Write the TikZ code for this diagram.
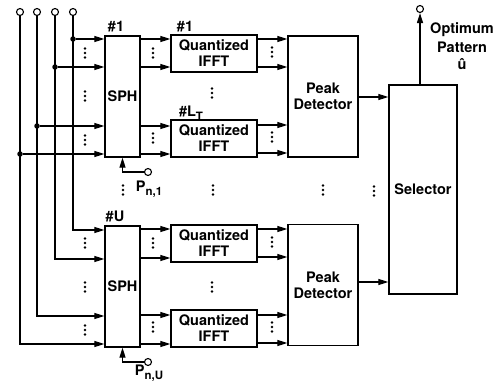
\documentclass[tikz,border=0pt]{standalone}
\usepackage{fontspec}
\setmainfont{TeX Gyre Heros}
\usepackage{tikz}
\usetikzlibrary{positioning,arrows.meta}

\newcommand{\lowtxt}[1]{\raisebox{-4pt}{\fontsize{11.5}{11.5}\selectfont #1}}

\begin{document}
\begin{tikzpicture}[
  x=1pt, y=-1pt,
  font=\fontsize{14.5}{16}\selectfont\bfseries,
  blk/.style={draw, line width=1.3pt, fill=white, inner sep=0pt, align=center},
  sph/.style={blk, minimum width=35pt, minimum height=121pt},
  qifft/.style={blk, minimum width=86pt, minimum height=37pt},
  peak/.style={blk, minimum width=70pt, minimum height=121pt},
  sel/.style={blk, minimum width=68pt, minimum height=209pt},
  port/.style={circle, draw, fill=white, line width=1.1pt, inner sep=0pt,
               minimum size=7pt},
  jn/.style={circle, fill, inner sep=0pt, minimum size=5.5pt},
  lbl/.style={inner sep=0pt, align=center},
  arr/.style={-{Triangle[length=10pt,width=6pt]}, line width=1.2pt},
  vd/.pic={\foreach \d in {-4.5,0,4.5} \fill (0,\d) circle (1.3pt);},
]
\useasboundingbox (0,0) rectangle (503,385);

% input ports
\foreach \i/\x in {1/20,2/37,3/55,4/73}
  \node[port] (in\i) at (\x,12) {};

\node[sph] (sph1) at (122.5,96.5) {SPH};
\node[sph] (sph2) at (122.5,286.5) {SPH};

\node[qifft] (q11) at (214,53.5) {Quantized\\IFFT};
\node[qifft] (q1L) at (214,138.5) {Quantized\\IFFT};
\node[qifft] (qU1) at (214,243.5) {Quantized\\IFFT};
\node[qifft] (qUL) at (214,328.5) {Quantized\\IFFT};

\node[peak] (pd1) at (323,96.5) {Peak\\Detector};
\node[peak] (pd2) at (323,285) {Peak\\Detector};

\node[sel] (sel) at (423,189.5) {Selector};

\node[lbl] (h1) at (116,27) {\#1};
\node[lbl] (hq1) at (185,27) {\#1};
\node[lbl] (hqL) at (191,113) {\#L\lowtxt{T}};
\node[lbl] (hU) at (115,216) {\#U};

% inputs to SPH blocks
\foreach \i/\y in {1/154,2/126,3/67,4/39} {
  \node[jn] (j\i) at (in\i |- 0,\y) {};
  \draw[arr] (j\i) -- (sph1.west |- j\i);
}
\foreach \i/\y in {1/344,2/316,3/259,4/230}
  \draw[arr] (in\i) |- (sph2.west |- 0,\y);

% SPH -> IFFT
\foreach \y/\b in {39/q11,67/q11,126/q1L,154/q1L}
  \draw[arr] (sph1.east |- 0,\y) -- (\b.west |- 0,\y);
\foreach \y/\b in {229/qU1,258/qU1,315/qUL,344/qUL}
  \draw[arr] (sph2.east |- 0,\y) -- (\b.west |- 0,\y);

% IFFT -> peak detector
\foreach \y/\b in {39/q11,67/q11,125/q1L,153/q1L}
  \draw[arr] (\b.east |- 0,\y) -- (pd1.west |- 0,\y);
\foreach \y/\b in {229/qU1,257/qU1,315/qUL,343/qUL}
  \draw[arr] (\b.east |- 0,\y) -- (pd2.west |- 0,\y);

\draw[arr] (pd1.east |- 0,97) -- (sel.west |- 0,97);
\draw[arr] (pd2.east |- 0,282) -- (sel.west |- 0,282);

% phase inputs
\node[port] (p1) at (148,172) {};
\draw[arr] (p1) -| (sph1.south);
\node[lbl] (p1l) at (149,189) {P\lowtxt{n,1}};
\node[port] (pU) at (148,362) {};
\draw[arr] (pU) -| (sph2.south);
\node[lbl] (pUl) at (149,373) {P\lowtxt{n,U}};

% output
\node[port] (out) at (420,9) {};
\draw[arr] (out |- sel.north) -- (out);
\node[lbl] (outl) at (462,46) {Optimum\\[3pt]Pattern\\[1pt]û};

\foreach \p in {(85,53),(85,96),(85,140),(153,53),(153,138),(212,93),
    (272,52),(272,137),(123,190),(213,190),(323,190),(374,191),
    (85,243),(85,287),(85,330),(153,243),(153,327),(212,287),
    (272,242),(272,327)}
  \pic at \p {vd};

\end{tikzpicture}
\end{document}
